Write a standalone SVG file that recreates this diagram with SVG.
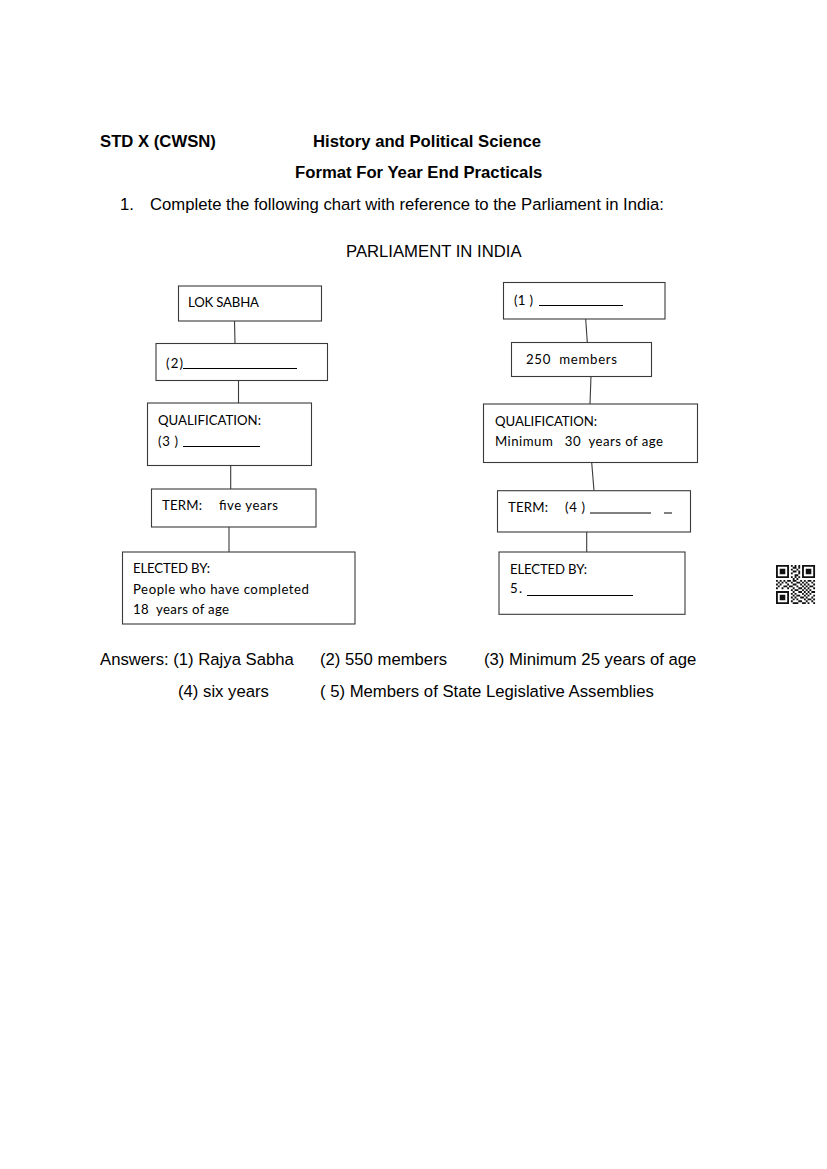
<svg xmlns="http://www.w3.org/2000/svg" width="827" height="1169" viewBox="0 0 827 1169">
<style>
.a{font-family:"Liberation Sans",Arial,sans-serif;font-size:16.7px;fill:#000}
.ab{font-family:"Liberation Sans",Arial,sans-serif;font-size:16.7px;font-weight:bold;fill:#000}
.c{font-family:Lato,"Open Sans",sans-serif;font-size:13.2px;fill:#000}
.box{fill:#fff;stroke:#3a3a3a;stroke-width:1.1}
.ul{stroke:#000;stroke-width:1}
.con line{stroke:#3a3a3a;stroke-width:1.1}
</style>
<rect width="827" height="1169" fill="#fff"/>
<g id="header">
<text class="ab" x="100" y="147">STD X (CWSN)</text>
<text class="ab" x="313" y="147">History and Political Science</text>
<text class="ab" x="295" y="178">Format For Year End Practicals</text>
<text class="a" x="120" y="210">1.</text>
<text class="a" x="150" y="210">Complete the following chart with reference to the Parliament in India:</text>
<text class="a" x="346" y="257">PARLIAMENT IN INDIA</text>
</g>
<g class="con" id="connectors">
<line x1="234.5" y1="321" x2="235" y2="343.5"/>
<line x1="238.5" y1="380.5" x2="238.5" y2="403"/>
<line x1="230.7" y1="465.5" x2="230.7" y2="489"/>
<line x1="229" y1="527" x2="229" y2="552"/>
<line x1="585.7" y1="319" x2="587.3" y2="342.5"/>
<line x1="591" y1="376" x2="590" y2="404"/>
<line x1="591.7" y1="462.5" x2="594" y2="490.7"/>
<line x1="586.7" y1="532" x2="586.7" y2="552"/>
</g>
<g id="lok-sabha">
<rect class="box" x="178.5" y="286" width="143" height="35"/>
<text class="c" x="188" y="306.5" textLength="71">LOK SABHA</text>
</g>
<g id="ls-members">
<rect class="box" x="156" y="343.5" width="171.5" height="37"/>
<text class="c" x="166" y="368" textLength="17">(2)</text>
<line class="ul" x1="183" y1="368.5" x2="297" y2="368.5"/>
</g>
<g id="ls-qualification">
<rect class="box" x="147.5" y="403" width="164" height="62.5"/>
<text class="c" x="158" y="425" textLength="103">QUALIFICATION:</text>
<text class="c" x="158" y="446" textLength="20" xml:space="preserve">(3 )</text>
<line class="ul" x1="183" y1="446.5" x2="260" y2="446.5"/>
</g>
<g id="ls-term">
<rect class="box" x="151.5" y="489" width="164.5" height="38"/>
<text class="c" x="162" y="510" textLength="40">TERM:</text>
<text class="c" x="219" y="510" textLength="59">five years</text>
</g>
<g id="ls-elected">
<rect class="box" x="122.5" y="552" width="232.5" height="72"/>
<text class="c" x="133" y="573" textLength="77">ELECTED BY:</text>
<text class="c" x="133" y="593.5" textLength="176">People who have completed</text>
<text class="c" x="133" y="614" textLength="96" xml:space="preserve">18  years of age</text>
</g>
<g id="rajya-sabha">
<rect class="box" x="503.5" y="282.5" width="161.5" height="36.5"/>
<text class="c" x="514" y="305" textLength="19" xml:space="preserve">(1 )</text>
<line class="ul" x1="539" y1="305.5" x2="623" y2="305.5"/>
</g>
<g id="rs-members">
<rect class="box" x="511.5" y="342.5" width="140" height="34"/>
<text class="c" x="526" y="363.5" textLength="91" xml:space="preserve">250  members</text>
</g>
<g id="rs-qualification">
<rect class="box" x="483.5" y="404" width="214" height="58.5"/>
<text class="c" x="495" y="426" textLength="102">QUALIFICATION:</text>
<text class="c" x="495" y="446" textLength="168" xml:space="preserve">Minimum   30  years of age</text>
</g>
<g id="rs-term">
<rect class="box" x="497.5" y="490.7" width="193" height="41.3"/>
<text class="c" x="508" y="512" textLength="40">TERM:</text>
<text class="c" x="565" y="512" textLength="20" xml:space="preserve">(4 )</text>
<line class="ul" x1="590" y1="513" x2="651" y2="513"/>
<line class="ul" x1="664" y1="513" x2="672" y2="513"/>
</g>
<g id="rs-elected">
<rect class="box" x="499" y="552" width="186" height="62.3"/>
<text class="c" x="510" y="573.5" textLength="77">ELECTED BY:</text>
<text class="c" x="510" y="593" textLength="12" xml:space="preserve">5 .</text>
<line class="ul" x1="527" y1="595.5" x2="633" y2="595.5"/>
</g>
<g id="answers">
<text class="a" x="100" y="665">Answers: (1) Rajya Sabha</text>
<text class="a" x="320" y="665">(2) 550 members</text>
<text class="a" x="484" y="665">(3) Minimum 25 years of age</text>
<text class="a" x="178" y="697">(4) six years</text>
<text class="a" x="320" y="697">( 5) Members of State Legislative Assemblies</text>
</g>
<g id="qr" transform="translate(776,565) scale(1.86)" fill="#111">
<path fill-rule="evenodd" d="M0 0h7v7h-7zM1 1v5h5v-5zM2 2h3v3h-3zM14 0h7v7h-7zM15 1v5h5v-5zM16 2h3v3h-3zM0 14h7v7h-7zM1 15v5h5v-5zM2 16h3v3h-3z"/>
<path d="M8 0h1v1h-1zM10 0h1v1h-1zM12 0h1v1h-1zM9 1h2v1h-2zM12 1h1v1h-1zM8 2h1v1h-1zM11 2h1v1h-1zM9 3h2v1h-2zM12 3h1v1h-1zM8 4h1v1h-1zM12 4h1v1h-1zM10 5h2v1h-2zM8 6h1v1h-1zM10 6h1v1h-1zM12 6h1v1h-1zM9 7h1v1h-1zM11 7h1v1h-1zM0 8h1v1h-1zM2 8h1v1h-1zM4 8h1v1h-1zM6 8h2v1h-2zM9 8h2v1h-2zM13 8h1v1h-1zM15 8h1v1h-1zM17 8h2v1h-2zM20 8h1v1h-1zM1 9h1v1h-1zM3 9h1v1h-1zM5 9h1v1h-1zM8 9h1v1h-1zM11 9h2v1h-2zM14 9h1v1h-1zM16 9h1v1h-1zM19 9h1v1h-1zM0 10h1v1h-1zM2 10h1v1h-1zM6 10h1v1h-1zM9 10h2v1h-2zM13 10h1v1h-1zM15 10h1v1h-1zM17 10h1v1h-1zM20 10h1v1h-1zM1 11h1v1h-1zM4 11h2v1h-2zM7 11h2v1h-2zM11 11h1v1h-1zM14 11h1v1h-1zM16 11h1v1h-1zM18 11h2v1h-2zM0 12h1v1h-1zM3 12h1v1h-1zM6 12h1v1h-1zM9 12h1v1h-1zM12 12h2v1h-2zM15 12h1v1h-1zM17 12h1v1h-1zM20 12h1v1h-1zM8 13h1v1h-1zM10 13h2v1h-2zM14 13h1v1h-1zM16 13h1v1h-1zM18 13h1v1h-1zM9 14h1v1h-1zM12 14h2v1h-2zM15 14h1v1h-1zM17 14h1v1h-1zM19 14h2v1h-2zM8 15h1v1h-1zM10 15h1v1h-1zM14 15h1v1h-1zM16 15h1v1h-1zM18 15h1v1h-1zM9 16h1v1h-1zM11 16h2v1h-2zM15 16h1v1h-1zM17 16h1v1h-1zM20 16h1v1h-1zM8 17h1v1h-1zM10 17h1v1h-1zM13 17h2v1h-2zM16 17h1v1h-1zM19 17h1v1h-1zM9 18h1v1h-1zM11 18h1v1h-1zM15 18h1v1h-1zM17 18h2v1h-2zM20 18h1v1h-1zM8 19h1v1h-1zM12 19h2v1h-2zM16 19h1v1h-1zM19 19h1v1h-1zM9 20h3v1h-3zM14 20h2v1h-2zM17 20h1v1h-1zM20 20h1v1h-1z"/>
</g>
</svg>
